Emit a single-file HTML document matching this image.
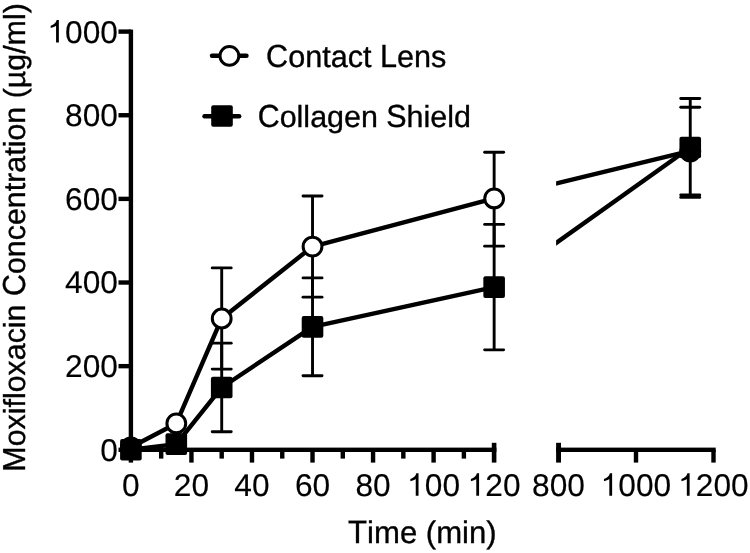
<!DOCTYPE html>
<html><head><meta charset="utf-8"><style>
html,body{margin:0;padding:0;background:#fff;overflow:hidden;}
svg{display:block;filter:grayscale(1);}
text{font-family:"Liberation Sans",sans-serif;fill:#000;text-rendering:geometricPrecision;font-kerning:none;}
.t{font-size:31.7px;}
.l{font-size:30.6px;}
.h{fill-opacity:0;stroke:none;}
.b{stroke:#000;stroke-width:0.35px;}
.t.b{stroke-width:0.15px;}
</style></head><body>
<svg width="750" height="553" viewBox="0 0 750 553">

<rect x="128.70" y="29.6" width="4.4" height="422.40" fill="#000"/>
<rect x="118.5" y="447.60" width="12.40" height="4.4" fill="#000"/>
<g transform="translate(0 460.70) scale(1 0.99) translate(0 -460.70)">
<text class="t b" x="100.37" y="460.70">0</text>
</g>
<rect x="118.5" y="363.96" width="12.40" height="4.4" fill="#000"/>
<g transform="translate(0 377.06) scale(1 0.99) translate(0 -377.06)">
<text class="t b" x="65.11" y="377.06">200</text>
</g>
<rect x="118.5" y="280.32" width="12.40" height="4.4" fill="#000"/>
<g transform="translate(0 293.42) scale(1 0.99) translate(0 -293.42)">
<text class="t b" x="65.11" y="293.42">400</text>
</g>
<rect x="118.5" y="196.68" width="12.40" height="4.4" fill="#000"/>
<g transform="translate(0 209.78) scale(1 0.99) translate(0 -209.78)">
<text class="t b" x="65.11" y="209.78">600</text>
</g>
<rect x="118.5" y="113.04" width="12.40" height="4.4" fill="#000"/>
<g transform="translate(0 126.14) scale(1 0.99) translate(0 -126.14)">
<text class="t b" x="65.11" y="126.14">800</text>
</g>
<rect x="118.5" y="29.40" width="12.40" height="4.4" fill="#000"/>
<g transform="translate(0 42.50) scale(1 0.99) translate(0 -42.50)">
<text class="t b" x="47.48" y="42.50"><tspan class="h">1</tspan>000</text>
<path d="M0.359 0L0.359 -0.715L0.29 -0.715C0.27 -0.63 0.2 -0.56 0.101 -0.535L0.101 -0.46C0.17 -0.47 0.23 -0.5 0.271 -0.53L0.271 0Z" transform="translate(47.48 42.50) scale(31.7)"/>
</g>
<rect x="128.70" y="447.60" width="367.70" height="4.4" fill="#000"/>
<rect x="128.70" y="449.80" width="4.4" height="12.80" fill="#000"/>
<g transform="translate(0 495.70) scale(1 0.99) translate(0 -495.70)">
<text class="t b" x="122.08" y="495.70">0</text>
</g>
<rect x="158.97" y="449.80" width="4.4" height="8.80" fill="#000"/>
<rect x="189.24" y="449.80" width="4.4" height="12.80" fill="#000"/>
<g transform="translate(0 495.70) scale(1 0.99) translate(0 -495.70)">
<text class="t b" x="173.81" y="495.70">20</text>
</g>
<rect x="219.51" y="449.80" width="4.4" height="8.80" fill="#000"/>
<rect x="249.78" y="449.80" width="4.4" height="12.80" fill="#000"/>
<g transform="translate(0 495.70) scale(1 0.99) translate(0 -495.70)">
<text class="t b" x="234.35" y="495.70">40</text>
</g>
<rect x="280.05" y="449.80" width="4.4" height="8.80" fill="#000"/>
<rect x="310.32" y="449.80" width="4.4" height="12.80" fill="#000"/>
<g transform="translate(0 495.70) scale(1 0.99) translate(0 -495.70)">
<text class="t b" x="294.89" y="495.70">60</text>
</g>
<rect x="340.59" y="449.80" width="4.4" height="8.80" fill="#000"/>
<rect x="370.86" y="449.80" width="4.4" height="12.80" fill="#000"/>
<g transform="translate(0 495.70) scale(1 0.99) translate(0 -495.70)">
<text class="t b" x="355.43" y="495.70">80</text>
</g>
<rect x="401.13" y="449.80" width="4.4" height="8.80" fill="#000"/>
<rect x="431.40" y="449.80" width="4.4" height="12.80" fill="#000"/>
<g transform="translate(0 495.70) scale(1 0.99) translate(0 -495.70)">
<text class="t b" x="407.15" y="495.70"><tspan class="h">1</tspan>00</text>
<path d="M0.359 0L0.359 -0.715L0.29 -0.715C0.27 -0.63 0.2 -0.56 0.101 -0.535L0.101 -0.46C0.17 -0.47 0.23 -0.5 0.271 -0.53L0.271 0Z" transform="translate(407.15 495.70) scale(31.7)"/>
</g>
<rect x="461.67" y="449.80" width="4.4" height="8.80" fill="#000"/>
<rect x="491.8" y="442.8" width="4.6" height="19.8" fill="#000"/>
<g transform="translate(0 495.70) scale(1 0.99) translate(0 -495.70)">
<text class="t b" x="467.69" y="495.70"><tspan class="h">1</tspan>20</text>
<path d="M0.359 0L0.359 -0.715L0.29 -0.715C0.27 -0.63 0.2 -0.56 0.101 -0.535L0.101 -0.46C0.17 -0.47 0.23 -0.5 0.271 -0.53L0.271 0Z" transform="translate(467.69 495.70) scale(31.7)"/>
</g>
<rect x="556.1" y="447.60" width="159.60" height="4.4" fill="#000"/>
<rect x="556.1" y="442.8" width="4.9" height="19.8" fill="#000"/>
<rect x="633.80" y="449.80" width="4.4" height="12.80" fill="#000"/>
<rect x="711.30" y="449.80" width="4.4" height="12.80" fill="#000"/>
<g transform="translate(0 495.70) scale(1 0.99) translate(0 -495.70)">
<text class="t b" x="532.05" y="495.70">800</text>
</g>
<g transform="translate(0 495.70) scale(1 0.99) translate(0 -495.70)">
<text class="t b" x="600.74" y="495.70"><tspan class="h">1</tspan>000</text>
<path d="M0.359 0L0.359 -0.715L0.29 -0.715C0.27 -0.63 0.2 -0.56 0.101 -0.535L0.101 -0.46C0.17 -0.47 0.23 -0.5 0.271 -0.53L0.271 0Z" transform="translate(600.74 495.70) scale(31.7)"/>
</g>
<g transform="translate(0 495.70) scale(1 0.99) translate(0 -495.70)">
<text class="t b" x="678.24" y="495.70"><tspan class="h">1</tspan>200</text>
<path d="M0.359 0L0.359 -0.715L0.29 -0.715C0.27 -0.63 0.2 -0.56 0.101 -0.535L0.101 -0.46C0.17 -0.47 0.23 -0.5 0.271 -0.53L0.271 0Z" transform="translate(678.24 495.70) scale(31.7)"/>
</g>
<g transform="translate(422.4 543.2)"><text class="l b" style="font-size:31.1px" x="-74.29" y="0.00"><tspan class="h">T</tspan>ime (min)</text><text class="l b" style="font-size:31.1px" transform="translate(-74.29 0.00) scale(1 1.045)">T</text></g>
<g transform="translate(25.1 237.4) rotate(-90)"><text class="l b" style="font-size:30.4px" x="-234.31" y="0.00"><tspan class="h">M</tspan>oxifloxacin <tspan class="h">C</tspan>oncentration (µg/ml)</text><text class="l b" style="font-size:30.4px" transform="translate(-234.31 0.00) scale(1 1.045)">M</text><text class="l b" style="font-size:30.4px" transform="translate(-58.60 0.00) scale(1 1.045)">C</text></g>
<path d="M130.90 447.29 L176.31 423.45 L221.71 318.49 L312.52 246.55 L494.14 198.46" fill="none" stroke="#000" stroke-width="4.4" stroke-linejoin="round"/>
<polygon points="556.10,181.14 689.73,148.65 690.77,152.92 556.10,185.66" fill="#000"/>
<path d="M130.90 449.80 L176.31 444.15 L221.71 387.49 L312.52 326.85 L494.14 287.12" fill="none" stroke="#000" stroke-width="4.4" stroke-linejoin="round"/>
<polygon points="556.10,240.29 688.97,145.65 691.53,149.23 556.10,245.69" fill="#000"/>
<line x1="221.71" y1="267.88" x2="221.71" y2="369.09" stroke="#000" stroke-width="2.9"/>
<line x1="212.21" y1="267.88" x2="231.21" y2="267.88" stroke="#000" stroke-width="2.9" stroke-linecap="round"/>
<line x1="212.21" y1="369.09" x2="231.21" y2="369.09" stroke="#000" stroke-width="2.9" stroke-linecap="round"/>
<line x1="312.52" y1="195.95" x2="312.52" y2="297.16" stroke="#000" stroke-width="2.9"/>
<line x1="303.02" y1="195.95" x2="322.02" y2="195.95" stroke="#000" stroke-width="2.9" stroke-linecap="round"/>
<line x1="303.02" y1="297.16" x2="322.02" y2="297.16" stroke="#000" stroke-width="2.9" stroke-linecap="round"/>
<line x1="494.14" y1="152.21" x2="494.14" y2="246.14" stroke="#000" stroke-width="2.9"/>
<line x1="484.64" y1="152.21" x2="503.64" y2="152.21" stroke="#000" stroke-width="2.9" stroke-linecap="round"/>
<line x1="484.64" y1="246.14" x2="503.64" y2="246.14" stroke="#000" stroke-width="2.9" stroke-linecap="round"/>
<line x1="690.25" y1="98.5" x2="690.25" y2="197.4" stroke="#000" stroke-width="2.9"/>
<line x1="680.75" y1="98.50" x2="699.75" y2="98.50" stroke="#000" stroke-width="2.9" stroke-linecap="round"/>
<line x1="680.75" y1="107.30" x2="699.75" y2="107.30" stroke="#000" stroke-width="2.9" stroke-linecap="round"/>
<line x1="680.75" y1="195.00" x2="699.75" y2="195.00" stroke="#000" stroke-width="2.9" stroke-linecap="round"/>
<line x1="680.75" y1="197.40" x2="699.75" y2="197.40" stroke="#000" stroke-width="2.9" stroke-linecap="round"/>
<circle cx="130.90" cy="447.29" r="9.4" fill="#fff" stroke="#000" stroke-width="3.0"/>
<circle cx="176.31" cy="423.45" r="9.4" fill="#fff" stroke="#000" stroke-width="3.0"/>
<circle cx="221.71" cy="318.49" r="9.4" fill="#fff" stroke="#000" stroke-width="3.0"/>
<circle cx="312.52" cy="246.55" r="9.4" fill="#fff" stroke="#000" stroke-width="3.0"/>
<circle cx="494.14" cy="198.46" r="9.4" fill="#fff" stroke="#000" stroke-width="3.0"/>
<circle cx="690.25" cy="151.62" r="10.9" fill="#000"/>
<line x1="221.71" y1="343.16" x2="221.71" y2="431.82" stroke="#000" stroke-width="2.9"/>
<line x1="212.21" y1="343.16" x2="231.21" y2="343.16" stroke="#000" stroke-width="2.9" stroke-linecap="round"/>
<line x1="212.21" y1="431.82" x2="231.21" y2="431.82" stroke="#000" stroke-width="2.9" stroke-linecap="round"/>
<line x1="312.52" y1="277.92" x2="312.52" y2="375.78" stroke="#000" stroke-width="2.9"/>
<line x1="303.02" y1="277.92" x2="322.02" y2="277.92" stroke="#000" stroke-width="2.9" stroke-linecap="round"/>
<line x1="303.02" y1="375.78" x2="322.02" y2="375.78" stroke="#000" stroke-width="2.9" stroke-linecap="round"/>
<line x1="494.14" y1="224.39" x2="494.14" y2="349.85" stroke="#000" stroke-width="2.9"/>
<line x1="484.64" y1="224.39" x2="503.64" y2="224.39" stroke="#000" stroke-width="2.9" stroke-linecap="round"/>
<line x1="484.64" y1="349.85" x2="503.64" y2="349.85" stroke="#000" stroke-width="2.9" stroke-linecap="round"/>
<rect x="120.10" y="439.00" width="21.6" height="21.6" rx="2" fill="#000"/>
<rect x="165.50" y="433.35" width="21.6" height="21.6" rx="2" fill="#000"/>
<rect x="210.91" y="376.69" width="21.6" height="21.6" rx="2" fill="#000"/>
<rect x="301.72" y="316.05" width="21.6" height="21.6" rx="2" fill="#000"/>
<rect x="483.34" y="276.32" width="21.6" height="21.6" rx="2" fill="#000"/>
<rect x="679.45" y="136.64" width="21.6" height="21.6" rx="2" fill="#000"/>
<line x1="212.0" y1="55.8" x2="246.5" y2="55.8" stroke="#000" stroke-width="4.4" stroke-linecap="round"/>
<circle cx="229.40" cy="55.90" r="9.4" fill="#fff" stroke="#000" stroke-width="3.0"/>
<g transform="translate(266.1 66.8)"><text class="l b" style="font-size:30.6px" x="0.00" y="0.00"><tspan class="h">C</tspan>ontact <tspan class="h">L</tspan>ens</text><text class="l b" style="font-size:30.6px" transform="translate(0.00 0.00) scale(1 1.045)">C</text><text class="l b" style="font-size:30.6px" transform="translate(113.96 0.00) scale(1 1.045)">L</text></g>
<line x1="204.5" y1="116.2" x2="239.2" y2="116.2" stroke="#000" stroke-width="4.4" stroke-linecap="round"/>
<rect x="211.20" y="105.20" width="21.6" height="21.6" rx="2" fill="#000"/>
<g transform="translate(257.7 127.0)"><text class="l b" style="font-size:30.45px" x="0.00" y="0.00"><tspan class="h">C</tspan>ollagen <tspan class="h">S</tspan>hield</text><text class="l b" style="font-size:30.45px" transform="translate(0.00 0.00) scale(1 1.045)">C</text><text class="l b" style="font-size:30.45px" transform="translate(128.65 0.00) scale(1 1.045)">S</text></g>
</svg></body></html>
